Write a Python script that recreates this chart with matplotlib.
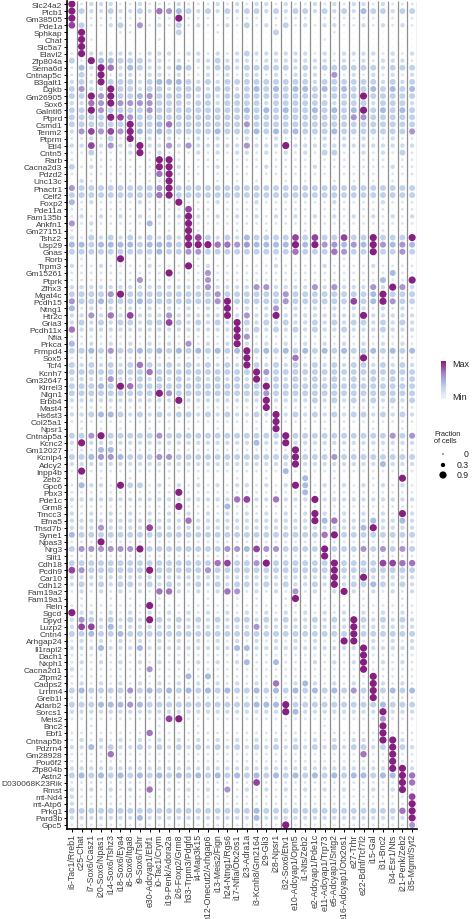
#!/usr/bin/env python3
# -*- coding: utf-8 -*-

"""
Dot plot of marker genes per neuron cluster (fraction of cells and scaled expression).
"""

### Import Space ###

import numpy as np
import matplotlib.pyplot as plt
from matplotlib.colors import LinearSegmentedColormap, Normalize
from matplotlib.cm import ScalarMappable

### Global Var/stat ###

genes = ["Slc24a2", "Plcb1", "Gm38505", "Pde1a", "Sphkap", "Chat", "Slc5a7", "Elavl2",
         "Zfp804a", "Sema6d", "Cntnap5c", "B3galt1", "Dgkb", "Gm26905", "Sox6", "Galntl6",
         "Ptprd", "Csmd1", "Tenm2", "Ptprm", "Etl4", "Cntn5", "Rarb", "Cacna2d3", "Pdzd2",
         "Unc13c", "Phactr1", "Celf2", "Foxp2", "Pde11a", "Fam135b", "Ankfn1", "Gm27151",
         "Tshz2", "Usp29", "Gnas", "Rorb", "Trpm3", "Gm15261", "Ptprk", "Zfhx3", "Mgat4c",
         "Pcdh15", "Ntng1", "Htr2c", "Gria3", "Pcdh11x", "Nfia", "Prkca", "Frmpd4", "Sox5",
         "Tcf4", "Kcnh7", "Gm32647", "Kirrel3", "Nlgn1", "Erbb4", "Mast4", "Hs6st3",
         "Col25a1", "Npsr1", "Cntnap5a", "Kcnc2", "Gm12027", "Kcnip4", "Adcy2", "Inpp4b",
         "Zeb2", "Gpc6", "Pbx3", "Pde1c", "Grm8", "Tmcc3", "Efna5", "Thsd7b", "Syne1",
         "Npas3", "Nrg3", "Slit1", "Cdh18", "Pcdh9", "Car10", "Cdh12", "Fam19a2", "Fam19a1",
         "Reln", "Sgcd", "Dpyd", "Luzp2", "Cntn4", "Arhgap24", "Il1rapl2", "Dach1", "Nxph1",
         "Cacna2d1", "Zfpm2", "Cadps2", "Lrrtm4", "Greb1l", "Adarb2", "Sorcs1", "Meis2",
         "Bnc2", "Ebf1", "Cntnap5b", "Pdzrn4", "Gm28928", "Pou6f2", "Zfp804b", "Astn2",
         "D030068K23Rik", "Rmst", "mt-Nd4", "mt-Atp6", "Prkg1", "Pard3b", "Gpc5"]

clusters = ["i6-Tac1/Rreb1", "c25-Chat", "i7-Sox6/Casz1", "i20-Sox6/Npas1",
            "i14-Sox6/Tshz3", "i18-Sox6/Eya4", "i8-Sox6/Itga8", "i9-Sox6/Tshr",
            "e30-Adcyap1/Ebf1", "i0-Tac1/Crym", "i19-Penk/Adora2a", "i26-Foxp2/Grm8",
            "h33-Trpm3/Pdgfd", "i4-Map3k15", "h12-Onecut2/Arhgap6", "i13-Meis2/Fign",
            "h24-Ntng1/Rgs6", "i17-Nfia/Otx2os1", "i23-Adra1a", "i3-Kcnh8/Gm2164",
            "i29-Gli3", "i28-Npsr1", "i32-Sox6/Etv1", "e10-Adcyap1/Opn5", "i1-Nts/Zeb2",
            "e2-Adcyap1/Pde1c", "e11-Adcyap1/Trp73", "e5-Adcyap1/Sntg2",
            "e16-Adcyap1/Otx2os1", "e27-Trhr", "e22-Bdnf/Tcf7l2", "i15-Gal", "i31-Bnc2",
            "i34-Esr1/Nts", "i21-Penk/Zeb2", "i35-Mgmt/Syt2"]

# one digit per cluster: 0 = tiny pale ... 8 = big dark purple
levels = [
    "812221 121112 111212 122121 121212 212111",
    "832232 232654 323232 332323 323232 433233",
    "801111 110118 111011 110111 101111 110101",
    "731123 151213 121121 312131 212211 212121",
    "080001 100003 000100 000300 000100 000000",
    "081000 000100 000000 000000 001000 000000",
    "080000 000000 000000 000000 000000 000000",
    "182222 212221 221212 322222 212122 221212",
    "318443 332212 122322 212222 222121 212221",
    "142862 432224 312332 333332 323333 332333",
    "131812 212212 112121 221212 221512 121212",
    "232833 323444 323233 333333 323333 332323",
    "352283 323323 332332 343434 434343 343434",
    "338583 345333 323233 333333 332333 833333",
    "226585 555333 233233 332333 333233 323332",
    "338533 335333 333333 434343 343434 834343",
    "333387 533333 333333 333333 333335 533333",
    "333333 833463 333333 533333 333333 333333",
    "257575 843433 333433 343434 333433 333335",
    "112131 812121 121211 211211 112121 211211",
    "227252 282252 522222 522282 222222 222222",
    "113111 281211 121212 212121 213311 212131",
    "101111 101881 011101 110111 101110 111011",
    "312111 111882 111211 112111 121111 111211",
    "101111 111681 110111 101111 111011 110111",
    "021010 101180 100101 010010 100101 010100",
    "533333 333583 333333 333333 333333 333333",
    "333333 333683 333333 333333 333333 333333",
    "412111 121118 111211 121111 111211 112111",
    "110111 101111 711011 110111 101110 111011",
    "121212 121212 821212 121212 121212 121212",
    "512111 114111 811111 111111 111111 111111",
    "101000 100010 810001 001000 100010 001000",
    "213232 323232 873232 433337 373373 383338",
    "443444 434443 888665 544448 485545 485454",
    "333333 333433 553333 333336 333653 383353",
    "010008 001000 010000 000100 000010 000000",
    "211211 112111 812111 111211 112111 121111",
    "111111 111181 115111 111111 111111 111411",
    "111111 151111 115111 111111 111111 114118",
    "222222 222222 225222 255222 252522 252852",
    "333358 333333 333533 333353 333333 348333",
    "533433 343333 333583 333353 333337 348533",
    "412121 212121 212181 212512 121212 212121",
    "225262 722252 222282 522822 222222 822222",
    "232323 323373 232328 323232 232323 323232",
    "622222 222222 222228 232323 232232 223222",
    "111111 111111 111118 511111 111111 111111",
    "412121 212121 512128 212121 212121 212121",
    "334353 343434 343434 834343 434343 343434",
    "111111 111111 111111 811116 111111 811111",
    "323232 363232 323232 832323 232323 323232",
    "333333 336333 333333 385333 333333 333333",
    "222252 232323 232323 282323 232323 232323",
    "333438 633333 333333 338333 333333 333333",
    "333333 333853 333333 335333 333333 333333",
    "222222 222228 222222 228222 232323 232323",
    "111111 111111 111111 118111 111111 111111",
    "223443 232323 323232 232823 232323 323232",
    "111111 111111 111111 111811 111111 111111",
    "010101 001010 100100 010800 101010 010010",
    "335833 333533 333333 333383 333333 333535",
    "282222 222222 222222 242282 222222 222222",
    "111441 111111 111111 111118 111111 111111",
    "334554 333553 333333 333338 333533 333333",
    "222222 222222 222222 222228 222222 224222",
    "181111 111111 111111 111141 111111 111111",
    "010100 100010 010001 001000 400100 010080",
    "142218 331212 121212 212128 412121 212121",
    "111111 111118 111111 111111 411111 111111",
    "222222 222222 222226 722622 282222 222222",
    "111111 111118 111141 111111 111111 111111",
    "212121 212121 212121 212121 282121 212182",
    "222222 222222 622222 222222 284622 242242",
    "222522 227222 222222 222222 222222 482222",
    "433333 333333 333333 333333 336833 333333",
    "111811 111111 111111 111111 111111 111111",
    "355555 583333 333355 475533 338333 535353",
    "111111 111111 111111 111111 118111 111111",
    "333333 333333 333673 358333 333833 337766",
    "753333 338333 335333 333333 333833 333333",
    "222222 222222 222222 222222 222822 822222",
    "232323 323232 232323 323232 232823 343232",
    "121212 121662 121265 121215 121282 121212",
    "010010 100100 001001 010018 001000 100010",
    "111111 118111 111111 111111 111111 111111",
    "822121 212121 212121 212121 212121 212121",
    "253232 328323 232323 323232 232328 323232",
    "277242 222222 222222 252222 222228 222222",
    "334334 333333 333333 333333 333338 333333",
    "121212 121212 121212 121212 121188 121212",
    "222422 242222 222224 422222 222222 822222",
    "111111 111111 111111 111111 111111 811111",
    "121212 121212 121212 411411 121212 812121",
    "211111 115111 111111 111111 111111 811111",
    "111111 111111 414111 111111 111111 181111",
    "121212 121212 121212 121612 421212 182121",
    "343333 534343 434343 343434 343435 383434",
    "111111 111111 111111 111111 111111 181111",
    "333444 543333 333333 344483 333333 334333",
    "222222 222222 222222 222284 222222 228222",
    "111111 111178 111111 111111 111111 115111",
    "001000 000100 010000 000010 001000 008000",
    "111111 116111 111111 111111 111111 118111",
    "121212 121212 121212 121212 121212 218821",
    "224232 232323 232323 232323 232323 323832",
    "111161 111111 111111 111111 111111 611811",
    "111111 111111 111111 111111 111111 111811",
    "222222 222222 222222 222222 222222 222882",
    "343434 343434 343434 343434 343434 434486",
    "111111 111111 111111 171111 111111 111186",
    "212121 216121 212151 212121 212121 121281",
    "211111 111111 111111 111111 111111 111117",
    "211111 111111 111111 111111 111111 111118",
    "333333 333333 333333 343333 333333 333368",
    "222222 242222 222222 242222 222222 222228",
    "111111 111111 111111 111181 111111 111115",
]

# what each digit stands for
level_fraction = [0.02, 0.12, 0.3, 0.58, 0.6, 0.62, 0.7, 0.78, 0.88]
level_expression = [0.0, 0.15, 0.24, 0.32, 0.45, 0.6, 0.72, 0.86, 1.0]

legend_fractions = [0, 0.3, 0.9]

### Function/Class Space ###

def dot_size(fraction):
    """Marker area (pt^2) for a fraction of expressing cells"""
    return 1.0 + 29.0*np.asarray(fraction)

### Running Script Space ###

if __name__ == '__main__':
    plt.rcParams['font.family'] = ['Liberation Sans', 'DejaVu Sans']

    code = np.array([[int(c) for c in row.replace(" ", "")] for row in levels])
    fraction = np.array(level_fraction)[code]
    expression = np.array(level_expression)[code]

    cmap = LinearSegmentedColormap.from_list(
        "expr", [(0.0, '#f2f4f9'), (0.15, '#dce5f3'), (0.3, '#c3d4ec'),
                 (0.45, '#a8bbe2'), (0.58, '#a99ad2'), (0.7, '#a67bc2'),
                 (0.85, '#9545a2'), (1.0, '#861f80')])
    norm = Normalize(0, 1)

    fig = plt.figure(figsize=(4.74, 9.2), dpi=100)
    ax = fig.add_axes([67/474, 1 - 829.5/920, 350/474, 828/920])

    yy, xx = np.meshgrid(np.arange(len(genes)), np.arange(len(clusters)), indexing='ij')
    ax.vlines(np.arange(0.5, len(clusters), 1), -0.5, len(genes) - 0.5,
              color='#8f8f8f', lw=0.9, zorder=0)
    ax.scatter(xx.ravel(), yy.ravel(), s=dot_size(fraction.ravel()),
               c=expression.ravel(), cmap=cmap, norm=norm, linewidths=0, zorder=2)

    ax.set_xlim(-0.5, len(clusters) - 0.5)
    ax.set_ylim(len(genes) - 0.5, -0.5)
    ax.set_xticks(range(len(clusters)))
    ax.set_xticklabels(clusters, rotation=90, fontsize=6.3, color='#3c3c3c')
    ax.set_yticks(range(len(genes)))
    ax.set_yticklabels(genes, fontsize=6.0, color='#3c3c3c')
    ax.tick_params(length=2.2, width=0.7, pad=1.2, color='black')
    for side in ['top', 'right']:
        ax.spines[side].set_visible(False)
    for side in ['left', 'bottom']:
        ax.spines[side].set_linewidth(1.2)

    # colour legend
    cax = fig.add_axes([441/474, 1 - 400/920, 5/474, 38/920])
    cbar = fig.colorbar(ScalarMappable(norm=norm, cmap=cmap), cax=cax)
    cbar.outline.set_visible(False)
    cbar.set_ticks([])
    fig.text(452/474, 1 - 365/920, "Max", fontsize=6.5, va='center', color='#222222')
    fig.text(452/474, 1 - 398/920, "Min", fontsize=6.5, va='center', color='#222222')

    # size legend
    fig.text(434/474, 1 - 438/920, "Fraction\nof cells", fontsize=5.3,
             va='center', linespacing=1.1, color='#222222')
    lax = fig.add_axes([434/474, 1 - 482/920, 40/474, 32/920])
    lax.set_xlim(0, 40)
    lax.set_ylim(32, 0)
    lax.axis('off')
    ly = np.array([5, 16, 26])
    lax.scatter(np.full(3, 9), ly, s=dot_size(legend_fractions), c='black', linewidths=0)
    for y, v in zip(ly, legend_fractions):
        lax.text(35, y, str(v), fontsize=6.3, ha='right', va='center', color='#222222')

    fig.savefig("out.png", dpi=100)
